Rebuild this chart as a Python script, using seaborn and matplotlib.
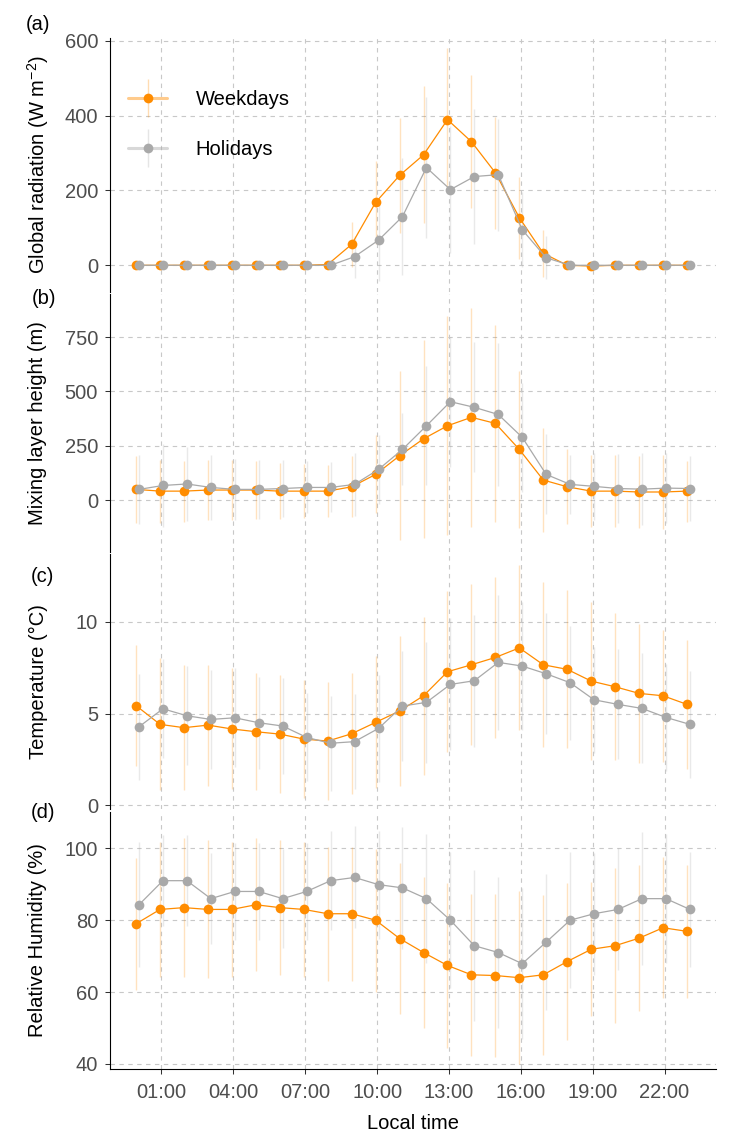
import matplotlib
matplotlib.use("Agg")
import matplotlib.pyplot as plt
from matplotlib.lines import Line2D
from matplotlib.legend_handler import HandlerTuple
import numpy as np
import pandas as pd
import seaborn as sns

sns.set_theme(style="white")
plt.rcParams['font.family'] = ['Liberation Sans', 'DejaVu Sans']
plt.rcParams['mathtext.fontset'] = 'custom'
plt.rcParams['mathtext.rm'] = 'Liberation Sans'
plt.rcParams['mathtext.default'] = 'regular'

# ---- data ----
hours = list(range(24))
tick_hours = [1, 4, 7, 10, 13, 16, 19, 22]
tick_labels = ['01:00', '04:00', '07:00', '10:00', '13:00', '16:00', '19:00', '22:00']
groups = ['Weekdays', 'Holidays']

rad_wd = [0, 0, 0, 0, 0, 0, 0, 0, 2, 56, 168, 240, 295, 389, 330, 247, 127, 32, 0, -2, 0, 0, 0, 0]
rad_wd_sd = [0, 0, 0, 0, 0, 0, 0, 0, 6, 60, 110, 153, 183, 190, 177, 150, 110, 62, 0, 0, 0, 0, 0, 0]
rad_hd = [0, 0, 0, 0, 0, 0, 0, 0, 0, 23, 67, 130, 261, 202, 237, 242, 95, 20, 0, 0, 0, 0, 0, 0]
rad_hd_sd = [0, 0, 0, 0, 0, 0, 0, 0, 0, 56, 110, 157, 188, 170, 180, 150, 100, 57, 0, 0, 0, 0, 0, 0]

mlh_wd = [49, 41, 41, 46, 46, 46, 41, 41, 41, 61, 118, 204, 282, 342, 381, 353, 233, 92, 61, 41, 41, 37, 37, 41]
mlh_wd_sd = [155, 145, 140, 140, 140, 135, 130, 125, 120, 140, 180, 390, 455, 505, 505, 455, 360, 240,
             172, 165, 165, 165, 170, 140]
mlh_hd = [49, 67, 74, 58, 49, 49, 53, 58, 58, 72, 141, 233, 342, 453, 427, 394, 289, 118, 72, 63, 53, 50, 55, 53]
mlh_hd_sd = [160, 190, 170, 150, 140, 135, 130, 120, 115, 144, 160, 166, 275, 300, 300, 330, 250, 184,
             135, 155, 160, 165, 160, 150]

t_wd = [5.43, 4.41, 4.23, 4.37, 4.16, 4.01, 3.88, 3.61, 3.50, 3.90, 4.52, 5.14, 5.97, 7.28, 7.66, 8.06,
        8.58, 7.66, 7.41, 6.77, 6.46, 6.10, 5.97, 5.50]
t_wd_sd = [3.3, 3.6, 3.4, 3.3, 3.3, 3.2, 3.2, 3.2, 3.2, 3.3, 3.6, 4.1, 4.3, 4.4, 4.4, 4.4, 4.5, 4.5,
           4.3, 4.3, 4.0, 3.8, 3.6, 3.5]
t_hd = [4.28, 5.26, 4.88, 4.68, 4.77, 4.50, 4.32, 3.70, 3.38, 3.47, 4.19, 5.41, 5.61, 6.59, 6.79, 7.79,
        7.59, 7.17, 6.68, 5.75, 5.50, 5.28, 4.79, 4.41]
t_hd_sd = [2.9, 2.7, 2.7, 2.7, 2.7, 2.5, 2.6, 2.4, 2.6, 2.6, 2.9, 3.0, 3.3, 3.6, 3.6, 3.7, 3.5, 3.3,
           3.1, 2.9, 3.0, 3.0, 2.9, 2.9]

rh_wd = [79.0, 83.0, 83.5, 83.0, 83.0, 84.3, 83.5, 83.0, 81.8, 81.8, 80.0, 74.9, 71.0, 67.4, 64.8, 64.6,
         64.0, 64.8, 68.5, 71.9, 72.9, 75.0, 77.9, 76.9]
rh_wd_sd = [18.3, 18.7, 19.4, 19.2, 18.7, 18.5, 18.8, 18.8, 18.6, 18.6, 19.9, 21.0, 21.0, 23.0, 22.6, 22.7,
            24.0, 22.3, 21.8, 18.7, 21.6, 20.4, 19.6, 18.6]
rh_hd = [84.3, 91.0, 91.0, 86.0, 88.0, 88.0, 86.0, 88.0, 91.0, 91.9, 89.9, 89.0, 86.0, 80.0, 72.9, 71.0,
         67.9, 73.9, 80.0, 81.8, 83.0, 86.0, 86.0, 83.0]
rh_hd_sd = [17.4, 12.7, 12.7, 12.6, 13.4, 13.5, 13.8, 13.5, 13.7, 14.2, 15.0, 17.0, 18.0, 19.0, 21.0, 21.0,
            21.0, 19.0, 19.0, 17.0, 17.0, 18.5, 18.0, 16.0]

# ---- styling ----
COLORS = {'Weekdays': '#FF8C00', 'Holidays': '#A9A9A9'}
DODGE = {'Weekdays': -0.06, 'Holidays': 0.06}
FS = 14.5
TICK_COLOR = '#4D4D4D'
GRID = dict(color='#c8c8c8', linestyle=(0, (4, 4)), linewidth=0.8)
MS = 7

W, H = 736, 1148
L, R = 110, 716


def rect(top, bottom):
    return [L / W, 1 - bottom / H, (R - L) / W, (bottom - top) / H]


panels = [
    dict(tag='(a)', tagxy=(38, 24), rect=rect(38, 291.5), wd=rad_wd, wd_sd=rad_wd_sd, hd=rad_hd, hd_sd=rad_hd_sd,
         ylim=(-70, 607), yticks=[0, 200, 400, 600], ylabel='Global radiation (W m$^{-2}$)'),
    dict(tag='(b)', tagxy=(44, 298), rect=rect(294, 551.7), wd=mlh_wd, wd_sd=mlh_wd_sd, hd=mlh_hd, hd_sd=mlh_hd_sd,
         ylim=(-238, 949), yticks=[0, 250, 500, 750], ylabel='Mixing layer height (m)'),
    dict(tag='(c)', tagxy=(42, 577), rect=rect(554, 809.3), wd=t_wd, wd_sd=t_wd_sd, hd=t_hd, hd_sd=t_hd_sd,
         ylim=(-0.22, 13.7), yticks=[0, 5, 10], ylabel='Temperature (°C)'),
    dict(tag='(d)', tagxy=(43, 813), rect=rect(811.7, 1069.3), wd=rh_wd, wd_sd=rh_wd_sd, hd=rh_hd, hd_sd=rh_hd_sd,
         ylim=(38.5, 110.2), yticks=[40, 60, 80, 100], ylabel='Relative Humidity (%)'),
]

fig = plt.figure(figsize=(W / 100, H / 100), dpi=100)

for i, p in enumerate(panels):
    ax = fig.add_axes(p['rect'])
    last = i == len(panels) - 1

    df = pd.DataFrame({
        'hour': hours * 2,
        'value': list(p['wd']) + list(p['hd']),
        'sd': list(p['wd_sd']) + list(p['hd_sd']),
        'group': ['Weekdays'] * 24 + ['Holidays'] * 24,
    })
    df['x'] = df['hour'] + df['group'].map(DODGE)

    # error bars (mean +- sd)
    for g in groups:
        sub = df[df['group'] == g]
        ax.vlines(sub['x'], sub['value'] - sub['sd'], sub['value'] + sub['sd'],
                  colors=COLORS[g], alpha=0.25, linewidth=1.0, zorder=1)

    sns.lineplot(data=df, x='x', y='value', hue='group', hue_order=groups, palette=COLORS,
                 marker='o', markersize=MS, markeredgewidth=0, linewidth=0.9,
                 errorbar=None, legend=False, ax=ax, zorder=3)

    ax.set_xlim(-1.15, 24.15)
    ax.set_ylim(*p['ylim'])
    ax.set_yticks(p['yticks'])
    ax.set_xticks(tick_hours)
    ax.set_xticklabels(tick_labels)
    ax.set_axisbelow(True)
    ax.grid(True, axis='both', **GRID)

    for s in ['top', 'right']:
        ax.spines[s].set_visible(False)
    ax.spines['left'].set_color('black')
    ax.spines['left'].set_linewidth(0.8)
    if last:
        ax.spines['bottom'].set_color('black')
        ax.spines['bottom'].set_linewidth(0.8)
    else:
        ax.spines['bottom'].set_visible(False)

    ax.tick_params(axis='y', left=True, length=3.6, width=0.75, color='#333333',
                   labelsize=FS, labelcolor=TICK_COLOR, pad=5)
    ax.tick_params(axis='x', bottom=last, labelbottom=last, length=3.6, width=0.75,
                   color='#333333', labelsize=FS, labelcolor=TICK_COLOR, pad=6)

    ax.set_ylabel(p['ylabel'], fontsize=FS, color='black', va='center')
    ax.yaxis.set_label_coords((38 - L) / (R - L), 0.5)
    if last:
        ax.set_xlabel('Local time', fontsize=FS, color='black', labelpad=9)
    else:
        ax.set_xlabel('')

    fig.text(p['tagxy'][0] / W, 1 - p['tagxy'][1] / H, p['tag'], fontsize=FS,
             ha='center', va='center', color='black')

    if i == 0:
        handles = []
        for g in groups:
            h_line = Line2D([], [], color=COLORS[g], alpha=0.45, linewidth=2.2)
            v_line = Line2D([], [], color=COLORS[g], alpha=0.3, marker='|', markersize=27,
                            markeredgewidth=1.0, linestyle='None')
            dot = Line2D([], [], color=COLORS[g], marker='o', markersize=MS,
                         markeredgewidth=0, linestyle='None')
            handles.append((h_line, v_line, dot))
        ax.legend(handles, groups, handler_map={tuple: HandlerTuple(ndivide=1, pad=0)},
                  loc='upper left', bbox_to_anchor=((128 - L) / (R - L), (291.5 - 90) / 253.5),
                  frameon=False, fontsize=FS, handlelength=1.95, handletextpad=1.4,
                  labelspacing=1.55, borderpad=0, borderaxespad=0, labelcolor='black')

fig.savefig('out.png', dpi=100)
